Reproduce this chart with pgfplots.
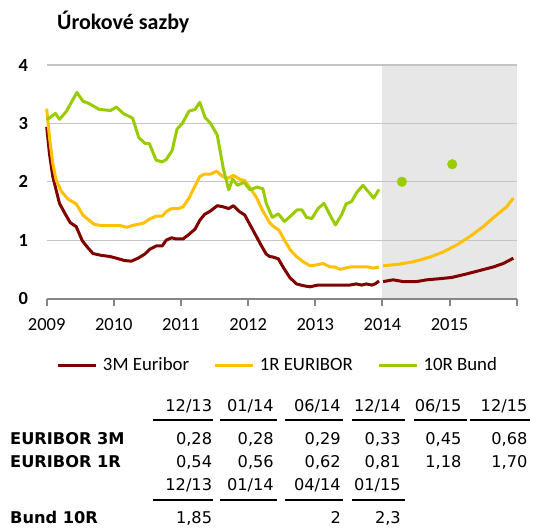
\documentclass[border=0pt]{standalone}
\usepackage{pgfplots}
\pgfplotsset{compat=1.18}
\usepackage{fontspec}
\setmainfont{Carlito}
\newfontfamily\tbl{DejaVu Sans}
\definecolor{cRed}{RGB}{128,0,0}
\definecolor{cYel}{RGB}{255,192,0}
\definecolor{cGrn}{RGB}{153,204,0}
\definecolor{cShade}{RGB}{231,231,231}
\definecolor{axgray}{RGB}{134,134,134}
\definecolor{gridgray}{RGB}{196,196,196}
\begin{document}
\begin{tikzpicture}
\path (0pt,0pt) rectangle (537pt,-527pt);
\node[anchor=base west, inner sep=0pt] at (57pt,-30pt) {\fontsize{22}{24}\selectfont\bfseries Úrokové sazby};
\begin{axis}[
  set layers,
  at={(46.7pt,-298.5pt)}, anchor=south west,
  scale only axis, width=470pt, height=233.5pt,
  xmin=2009, xmax=2016, ymin=0, ymax=4,
  clip=false,
  axis x line*=bottom, axis y line*=left,
  y axis line style={draw=none},
  x axis line style={draw=axgray, line width=2pt, -},
  xtick={2009,2010,2011,2012,2013,2014,2015,2016},
  xticklabels={2009,2010,2011,2012,2013,2014,2015,{}},
  xtick align=outside, major tick length=7pt,
  xtick style={draw=axgray, line width=2pt},
  ytick={0,1,2,3,4},
  ytick style={draw=none},
  ymajorgrids, grid style={draw=gridgray, line width=1.2pt},
  /pgf/number format/assume math mode=true,
  xticklabel style={font=\fontsize{18.5}{20}\selectfont, inner sep=0pt, anchor=north, yshift=-12.5pt},
  yticklabel style={font=\fontsize{18.5}{20}\selectfont\bfseries, inner sep=0pt, anchor=east, xshift=-18.4pt},
  legend columns=3,
  legend style={draw=none, fill=none, inner sep=0pt, outer sep=0pt,
    at={(0.0219,-0.285)}, anchor=west,
    font=\fontsize{18.8}{21}\selectfont,
    cells={anchor=west}, nodes={inner sep=0pt},
    /tikz/every odd column/.append style={column sep=5pt},
    /tikz/every even column/.append style={column sep=24.7pt}},
  legend image code/.code={\draw[#1, line width=3pt] (0pt,0pt) -- (38pt,0pt);},
]
\begin{pgfonlayer}{axis background}
\fill[cShade] (axis cs:2014,0) rectangle (axis cs:2016,4);
\end{pgfonlayer}
% 3M Euribor history
\addplot[cRed, line width=3pt, line join=round] coordinates {
(2009.0,2.94)(2009.04,2.49)(2009.09,2.09)(2009.14,1.86)(2009.19,1.63)(2009.27,1.46)(2009.35,1.30)(2009.44,1.23)(2009.53,0.99)(2009.62,0.86)(2009.69,0.77)(2009.81,0.74)(2009.94,0.72)(2010.04,0.69)(2010.16,0.65)(2010.26,0.64)(2010.36,0.69)(2010.46,0.76)(2010.53,0.84)(2010.63,0.90)(2010.72,0.90)(2010.78,1.00)(2010.86,1.04)(2010.93,1.02)(2011.03,1.02)(2011.12,1.10)(2011.21,1.19)(2011.28,1.34)(2011.35,1.44)(2011.44,1.50)(2011.54,1.59)(2011.63,1.57)(2011.71,1.54)(2011.78,1.59)(2011.87,1.49)(2011.95,1.43)(2012.03,1.26)(2012.11,1.09)(2012.19,0.92)(2012.27,0.76)(2012.32,0.72)(2012.37,0.71)(2012.45,0.68)(2012.52,0.54)(2012.62,0.36)(2012.72,0.25)(2012.82,0.22)(2012.92,0.20)(2013.04,0.23)(2013.17,0.23)(2013.32,0.23)(2013.51,0.23)(2013.61,0.25)(2013.69,0.23)(2013.76,0.25)(2013.84,0.23)(2013.89,0.25)(2013.95,0.30)};
\addlegendentry{3M Euribor}
% 1R EURIBOR history
\addplot[cYel, line width=3pt, line join=round] coordinates {
(2009.0,3.25)(2009.04,2.77)(2009.09,2.32)(2009.14,2.03)(2009.22,1.83)(2009.32,1.70)(2009.44,1.62)(2009.54,1.43)(2009.63,1.34)(2009.71,1.27)(2009.81,1.25)(2010.09,1.25)(2010.19,1.22)(2010.31,1.26)(2010.44,1.29)(2010.53,1.36)(2010.63,1.41)(2010.72,1.41)(2010.78,1.49)(2010.86,1.54)(2010.96,1.54)(2011.03,1.57)(2011.12,1.72)(2011.21,1.93)(2011.28,2.09)(2011.35,2.13)(2011.44,2.13)(2011.53,2.18)(2011.62,2.09)(2011.70,2.06)(2011.78,2.11)(2011.88,2.04)(2011.95,2.02)(2012.05,1.86)(2012.13,1.72)(2012.20,1.54)(2012.27,1.40)(2012.32,1.30)(2012.37,1.24)(2012.46,1.17)(2012.54,1.00)(2012.63,0.83)(2012.72,0.72)(2012.82,0.63)(2012.92,0.56)(2012.99,0.57)(2013.12,0.60)(2013.22,0.54)(2013.29,0.54)(2013.37,0.50)(2013.52,0.54)(2013.71,0.54)(2013.79,0.54)(2013.86,0.52)(2013.95,0.54)};
\addlegendentry{1R EURIBOR}
% 10R Bund history
\addplot[cGrn, line width=3pt, line join=round] coordinates {
(2009.0,3.06)(2009.13,3.17)(2009.19,3.07)(2009.29,3.20)(2009.45,3.53)(2009.54,3.38)(2009.63,3.34)(2009.78,3.24)(2009.95,3.22)(2010.04,3.28)(2010.14,3.17)(2010.28,3.09)(2010.37,2.76)(2010.46,2.66)(2010.53,2.65)(2010.63,2.37)(2010.72,2.34)(2010.78,2.38)(2010.87,2.54)(2010.94,2.90)(2011.02,3.00)(2011.12,3.21)(2011.21,3.24)(2011.28,3.36)(2011.36,3.10)(2011.44,3.00)(2011.54,2.80)(2011.63,2.23)(2011.71,1.86)(2011.77,2.05)(2011.84,1.94)(2011.94,1.99)(2012.03,1.86)(2012.13,1.91)(2012.22,1.88)(2012.27,1.63)(2012.36,1.39)(2012.45,1.45)(2012.54,1.32)(2012.63,1.41)(2012.73,1.52)(2012.80,1.52)(2012.87,1.39)(2012.95,1.37)(2013.04,1.54)(2013.13,1.63)(2013.22,1.43)(2013.30,1.26)(2013.39,1.43)(2013.46,1.62)(2013.54,1.66)(2013.62,1.82)(2013.71,1.94)(2013.79,1.83)(2013.87,1.72)(2013.95,1.87)};
\addlegendentry{10R Bund}
% forecasts
\addplot[cRed, line width=3pt, line join=round, forget plot] coordinates {
(2014.01,0.29)(2014.16,0.32)(2014.31,0.29)(2014.51,0.29)(2014.66,0.32)(2014.86,0.34)(2015.03,0.36)(2015.25,0.42)(2015.45,0.48)(2015.65,0.54)(2015.80,0.60)(2015.95,0.69)};
\addplot[cYel, line width=3pt, line join=round, forget plot] coordinates {
(2014.01,0.56)(2014.26,0.59)(2014.46,0.63)(2014.71,0.71)(2014.91,0.80)(2015.11,0.92)(2015.30,1.06)(2015.50,1.23)(2015.70,1.43)(2015.85,1.57)(2015.95,1.72)};
\addplot[only marks, mark=*, mark size=4.8pt, color=cGrn, forget plot] coordinates {(2014.29,2.0)(2015.04,2.3)};
\end{axis}
% table
\begin{scope}[every node/.style={inner sep=0pt, font=\tbl\fontsize{16.2}{18}\selectfont}]
\node[anchor=base east] at (212.3pt,-411.7pt) {12/13};
\node[anchor=base east] at (274pt,-411.7pt) {01/14};
\node[anchor=base east] at (341pt,-411.7pt) {06/14};
\node[anchor=base east] at (401pt,-411.7pt) {12/14};
\node[anchor=base east] at (461.7pt,-411.7pt) {06/15};
\node[anchor=base east] at (527.6pt,-411.7pt) {12/15};
\draw[line width=2pt] (152.7pt,-420pt) -- (213.3pt,-420pt);
\draw[line width=2pt] (220pt,-420pt) -- (277.4pt,-420pt);
\draw[line width=2pt] (284.9pt,-420pt) -- (343.3pt,-420pt);
\draw[line width=2pt] (351.9pt,-420pt) -- (405pt,-420pt);
\draw[line width=2pt] (413.7pt,-420pt) -- (466.9pt,-420pt);
\draw[line width=2pt] (469.6pt,-420pt) -- (530pt,-420pt);
\node[anchor=base west] at (10pt,-444.3pt) {\bfseries EURIBOR 3M};
\node[anchor=base west] at (10pt,-467.7pt) {\bfseries EURIBOR 1R};
\node[anchor=base east] at (212.3pt,-444.3pt) {0,28};
\node[anchor=base east] at (274pt,-444.3pt) {0,28};
\node[anchor=base east] at (341pt,-444.3pt) {0,29};
\node[anchor=base east] at (401pt,-444.3pt) {0,33};
\node[anchor=base east] at (461.7pt,-444.3pt) {0,45};
\node[anchor=base east] at (527.6pt,-444.3pt) {0,68};
\node[anchor=base east] at (212.3pt,-467.7pt) {0,54};
\node[anchor=base east] at (274pt,-467.7pt) {0,56};
\node[anchor=base east] at (341pt,-467.7pt) {0,62};
\node[anchor=base east] at (401pt,-467.7pt) {0,81};
\node[anchor=base east] at (461.7pt,-467.7pt) {1,18};
\node[anchor=base east] at (527.6pt,-467.7pt) {1,70};
\node[anchor=base east] at (212.3pt,-490pt) {12/13};
\node[anchor=base east] at (274pt,-490pt) {01/14};
\node[anchor=base east] at (341pt,-490pt) {04/14};
\node[anchor=base east] at (401pt,-490pt) {01/15};
\draw[line width=2pt] (152.7pt,-500pt) -- (213.3pt,-500pt);
\draw[line width=2pt] (220pt,-500pt) -- (277.4pt,-500pt);
\draw[line width=2pt] (284.9pt,-500pt) -- (343.3pt,-500pt);
\draw[line width=2pt] (351.9pt,-500pt) -- (405pt,-500pt);
\node[anchor=base west] at (10pt,-523.3pt) {\bfseries Bund 10R};
\node[anchor=base east] at (212.3pt,-523.3pt) {1,85};
\node[anchor=base east] at (341pt,-523.3pt) {2};
\node[anchor=base east] at (401pt,-523.3pt) {2,3};
\end{scope}
\end{tikzpicture}
\end{document}
